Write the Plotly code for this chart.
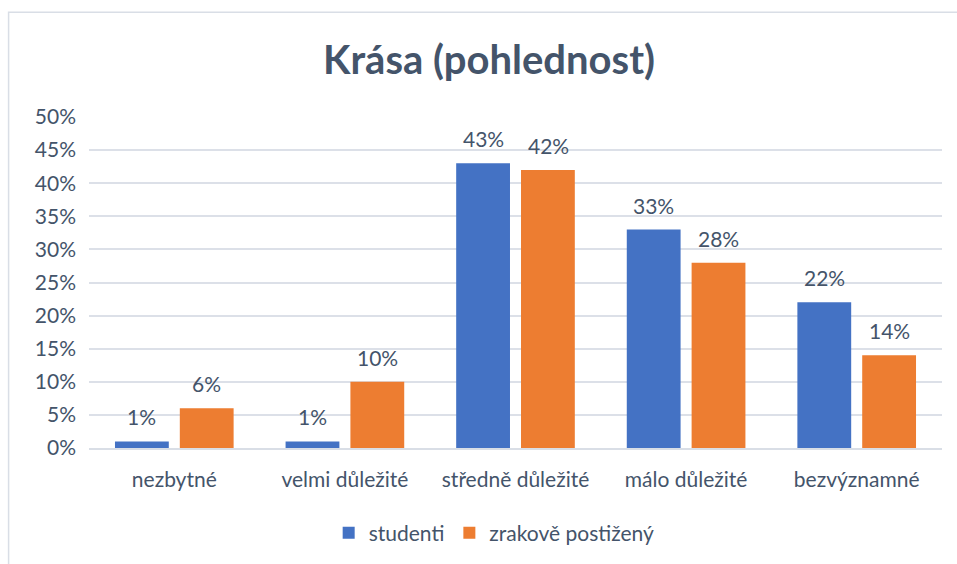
import plotly.graph_objects as go

categories = ["nezbytné", "velmi důležité", "středně důležité", "málo důležité", "bezvýznamné"]
studenti = [1, 1, 43, 33, 22]
zrakove = [6, 10, 42, 28, 14]
series_names = ["studenti", "zrakově postižený"]
tick_vals = [0, 5, 10, 15, 20, 25, 30, 35, 40, 45, 50]
tick_text = [f"{v}%" for v in tick_vals]

TXT = "#44546A"
FONT = "Lato"
BLUE = "#4472C4"
ORANGE = "#ED7D31"

W, H = 957, 564
L, R, T, B = 88.5, 14.5, 117, 115
pw, ph = W - L - R, H - T - B

fig = go.Figure()
fig.add_trace(go.Bar(name=series_names[0], x=categories, y=studenti, marker_color=BLUE,
                     marker_line_width=0))
fig.add_trace(go.Bar(name=series_names[1], x=categories, y=zrakove, marker_color=ORANGE,
                     marker_line_width=0))

shift = 32.5
for vals, xs in ((studenti, -shift), (zrakove, shift)):
    for c, v in zip(categories, vals):
        fig.add_annotation(x=c, y=v, text=f"{v}%", showarrow=False, xshift=xs,
                           yanchor="bottom", yshift=10,
                           font=dict(family=FONT, size=21, color=TXT))

# outer chart border (left and top visible)
fig.add_shape(type="rect", xref="paper", yref="paper",
              x0=(8 - L) / pw, x1=(W + 20 - L) / pw,
              y0=-(H + 20 - T - ph) / ph, y1=1 + (T - 12) / ph,
              line=dict(color="#D9DEE6", width=1.5), layer="below")

fig.update_layout(
    width=W, height=H,
    margin=dict(l=L, r=R, t=T, b=B),
    paper_bgcolor="white", plot_bgcolor="white",
    title=dict(text="<b>Krása (pohlednost)</b>", xref="paper", x=(489 - L) / pw,
               xanchor="center", y=1 - 60 / H, yanchor="middle",
               font=dict(family=FONT, size=40, color=TXT)),
    barmode="group", bargap=0.24, bargroupgap=0.17,
    font=dict(family=FONT, size=21, color=TXT),
    xaxis=dict(showgrid=False, showline=True, linecolor="#D9DEE6", linewidth=1.5,
               ticks="", tickfont=dict(family=FONT, size=21, color=TXT), ticklabelstandoff=12),
    yaxis=dict(range=[0, 50], tickvals=tick_vals, ticktext=tick_text,
               showgrid=True, gridcolor="#DCE0E8", gridwidth=1.5, zeroline=False,
               showline=False, ticks="", tickfont=dict(family=FONT, size=21, color=TXT),
               ticklabelstandoff=12),
    legend=dict(orientation="h", x=0.475, xanchor="center", y=-0.253, yanchor="middle",
                font=dict(family=FONT, size=21, color=TXT), itemwidth=30,
                traceorder="normal"),
    showlegend=True,
)

fig.write_html("out.html", config={"displayModeBar": False},
               post_script="document.body.style.margin='0';document.body.style.overflow='hidden';")
